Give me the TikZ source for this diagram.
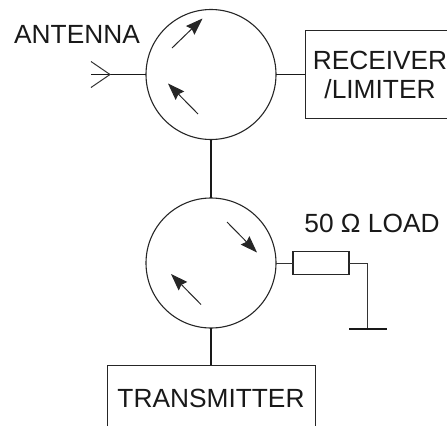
\documentclass[tikz,border=0pt]{standalone}
\usepackage{fontspec}
\setmainfont{Liberation Sans}
\usetikzlibrary{arrows.meta}
\tikzset{
  circ/.style={circle,draw=black!85,line width=1.1pt,minimum size=130pt,inner sep=0pt,outer sep=0pt},
  box/.style={rectangle,inner sep=0pt,outer sep=0pt},
  edge line/.style={draw=black!85,line width=1pt},
  lbl/.style={font=\fontsize{26.3pt}{30pt}\selectfont,text=black!90,inner sep=0pt,anchor=base},
  thick line/.style={draw=black!90,line width=1.8pt},
  thin line/.style={draw=black!80,line width=1pt},
  flow/.style={draw=black!85,line width=1pt,-{Stealth[length=17pt,width=12pt,inset=2pt]}}
}
\begin{document}
\begin{tikzpicture}[x=1pt,y=-1pt]
\useasboundingbox (0,0) rectangle (447,426);
\node[circ] (c1) at (211,74.5) {};
\node[circ] (c2) at (211,263) {};
\node[box,minimum width=142pt,minimum height=88pt] (rx) at (376,74) {};
\node[box,minimum width=208pt,minimum height=61pt] (tx) at (211,395.5) {};
\node[box,draw=black!85,line width=1.1pt,minimum width=56pt,minimum height=23pt] (res) at (321,263) {};
\draw[edge line] (rx.north east) -- (rx.north west) -- (rx.south west) -- (rx.south east);
\draw[edge line] (tx.south west) -- (tx.north west) -- (tx.north east) -- (tx.south east);
\coordinate (tip) at (110,74.5);
\coordinate (feed) at (91,74.5);
\coordinate (up) at (91,61.5);
\coordinate (dn) at (91,87.5);
\coordinate (bend) at (367.5,263);
\coordinate (gnd) at (367.5,329);
\coordinate (gl) at (349,329);
\coordinate (gr) at (387,329);
\coordinate (a1s) at (172,48); \coordinate (a1e) at (202.5,18.5);
\coordinate (a2s) at (198,114); \coordinate (a2e) at (168,83.5);
\coordinate (a3s) at (227,222); \coordinate (a3e) at (257,252.5);
\coordinate (a4s) at (201,304.5); \coordinate (a4e) at (171,274);
\draw[thick line] (feed) -- (c1.west);
\draw[thin line] (up) -- (tip) -- (dn);
\draw[thick line] (c1.south) -- (c2.north);
\draw[thick line] (c2.south) -- (tx.north);
\draw[thick line,line width=1.4pt] (c1.east) -- (c1.east -| rx.west);
\draw[thin line] (c2.east) -- (res.west);
\draw[thin line] (res.east) -- (bend) -- (gnd);
\draw[thick line] (gl) -- (gr);
\draw[flow] (a1s) -- (a1e);
\draw[flow] (a2s) -- (a2e);
\draw[flow] (a3s) -- (a3e);
\draw[flow] (a4s) -- (a4e);
\node[lbl] (ant) at (77,43) {ANTENNA};
\node[lbl] (rxa) at (380,69.5) {RECEIVER};
\node[lbl] (rxb) at (380,98.5) {/LIMITER};
\node[lbl] (load) at (372,232) {50 Ω LOAD};
\node[lbl] (txl) at (211,407) {TRANSMITTER};
\end{tikzpicture}
\end{document}
